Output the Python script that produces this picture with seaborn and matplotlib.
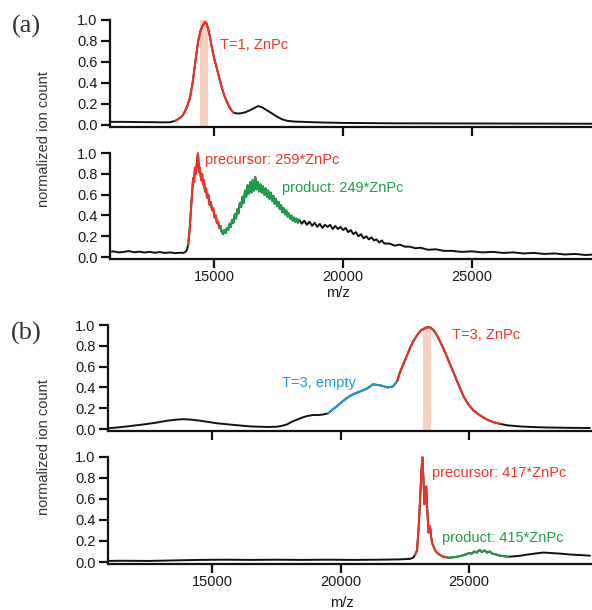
import matplotlib
matplotlib.use("Agg")
import matplotlib.pyplot as plt
import numpy as np
import seaborn as sns

# ---- data (m/z, normalized ion count) ----
# (a) top: T=1, ZnPc
a1_mz = [10900, 11500, 12000, 12500, 13000, 13300, 13500, 13700, 13800, 13950,
         14070, 14170, 14260, 14380, 14480, 14570, 14650, 14700, 14770, 14850,
         14920, 15010, 15110, 15210, 15310, 15400, 15500, 15620, 15740, 15870,
         16000, 16200, 16390, 16550, 16700, 16850, 17050, 17250, 17440, 17630,
         17830, 18100, 18450, 19000, 20000, 21000, 22000, 24000, 26000, 28000, 29700]
a1_int = [0.030, 0.030, 0.028, 0.027, 0.025, 0.026, 0.040, 0.070, 0.095, 0.170,
          0.260, 0.400, 0.570, 0.790, 0.900, 0.950, 0.980, 0.970, 0.920, 0.830,
          0.730, 0.630, 0.540, 0.440, 0.350, 0.280, 0.220, 0.160, 0.120, 0.110,
          0.110, 0.120, 0.140, 0.160, 0.180, 0.170, 0.140, 0.110, 0.080, 0.055,
          0.040, 0.033, 0.030, 0.025, 0.020, 0.018, 0.016, 0.015, 0.014, 0.013, 0.012]

# (a) bottom: precursor 259*ZnPc -> product 249*ZnPc
a2_mz = [10900, 11100, 11300, 11500, 11700, 11900, 12100, 12300, 12500, 12700,
         12900, 13100, 13300, 13500, 13700, 13800, 13900, 13950, 14000, 14050,
         14100, 14150, 14190, 14230, 14260, 14300, 14340, 14380, 14420, 14450,
         14500, 14540, 14570, 14610, 14650, 14690, 14730, 14780, 14830, 14880,
         14920, 14970, 15020, 15070, 15110, 15160, 15200, 15250, 15300, 15350,
         15400, 15450, 15500, 15550, 15600, 15650, 15700, 15750, 15800, 15850,
         15900, 15950, 16000, 16050, 16100, 16150, 16200, 16250, 16300, 16350,
         16400, 16450, 16500, 16550, 16600, 16650, 16700, 16750, 16800, 16850,
         16900, 16950, 17000, 17050, 17100, 17150, 17200, 17250, 17300, 17350,
         17400, 17450, 17500, 17550, 17600, 17650, 17700, 17750, 17800, 17850,
         17900, 17950, 18000, 18050, 18100, 18150, 18200, 18250, 18300, 18400,
         18500, 18600, 18700, 18800, 18900, 19000, 19100, 19200, 19300, 19400,
         19500, 19600, 19700, 19800, 19900, 20000, 20100, 20200, 20300, 20400,
         20500, 20600, 20700, 20800, 20900, 21000, 21100, 21200, 21300, 21400,
         21500, 21600, 21800, 22000, 22200, 22400, 22600, 22800, 23000, 23300,
         23600, 23900, 24200, 24600, 25000, 25400, 25800, 26200, 26600, 27000,
         27400, 27800, 28200, 28600, 29000, 29400, 29700]
a2_int = [0.050, 0.055, 0.045, 0.050, 0.058, 0.046, 0.052, 0.044, 0.050, 0.042,
          0.048, 0.040, 0.045, 0.038, 0.042, 0.040, 0.050, 0.070, 0.120, 0.250,
          0.430, 0.620, 0.760, 0.720, 0.860, 0.800, 0.920, 1.000, 0.820, 0.860,
          0.740, 0.800, 0.700, 0.740, 0.630, 0.660, 0.570, 0.600, 0.500, 0.530,
          0.450, 0.470, 0.380, 0.400, 0.330, 0.340, 0.280, 0.300, 0.240, 0.220,
          0.260, 0.230, 0.280, 0.260, 0.320, 0.290, 0.360, 0.330, 0.410, 0.370,
          0.460, 0.420, 0.520, 0.480, 0.580, 0.520, 0.640, 0.580, 0.690, 0.610,
          0.720, 0.620, 0.740, 0.640, 0.770, 0.650, 0.720, 0.630, 0.700, 0.620,
          0.680, 0.600, 0.660, 0.580, 0.640, 0.560, 0.620, 0.540, 0.590, 0.510,
          0.560, 0.490, 0.530, 0.460, 0.500, 0.430, 0.470, 0.410, 0.450, 0.390,
          0.420, 0.370, 0.400, 0.350, 0.380, 0.340, 0.370, 0.330, 0.360, 0.320,
          0.350, 0.310, 0.340, 0.300, 0.330, 0.290, 0.320, 0.280, 0.310, 0.290,
          0.310, 0.270, 0.300, 0.270, 0.290, 0.260, 0.280, 0.240, 0.260, 0.220,
          0.240, 0.200, 0.220, 0.180, 0.200, 0.170, 0.190, 0.160, 0.170, 0.140,
          0.160, 0.130, 0.130, 0.110, 0.120, 0.100, 0.100, 0.085, 0.090, 0.070,
          0.075, 0.060, 0.060, 0.050, 0.055, 0.045, 0.050, 0.040, 0.045, 0.035,
          0.040, 0.030, 0.035, 0.025, 0.030, 0.020, 0.025]

# (b) top: T=3 empty / T=3 ZnPc
b1_mz = [10900, 11500, 12200, 12800, 13250, 13600, 13870, 14200, 14530, 15200,
         15820, 16500, 17140, 17500, 17700, 17920, 18100, 18300, 18500, 18700,
         18930, 19150, 19320, 19510, 19700, 19860, 20050, 20250, 20450, 20640,
         20850, 21030, 21150, 21260, 21400, 21540, 21700, 21810, 21950, 22040,
         22200, 22300, 22430, 22570, 22700, 22840, 22970, 23130, 23290, 23400,
         23500, 23620, 23750, 23870, 23990, 24130, 24260, 24400, 24530, 24650,
         24770, 24960, 25160, 25430, 25700, 25950, 26200, 26500, 27000, 27400,
         28000, 28800, 29700]
b1_int = [0.005, 0.020, 0.040, 0.060, 0.080, 0.090, 0.095, 0.090, 0.080, 0.055,
          0.040, 0.025, 0.020, 0.022, 0.030, 0.045, 0.070, 0.090, 0.110, 0.125,
          0.135, 0.135, 0.140, 0.150, 0.190, 0.220, 0.260, 0.300, 0.330, 0.350,
          0.370, 0.390, 0.410, 0.430, 0.425, 0.420, 0.410, 0.400, 0.405, 0.410,
          0.460, 0.540, 0.620, 0.700, 0.780, 0.850, 0.900, 0.950, 0.970, 0.980,
          0.975, 0.950, 0.900, 0.840, 0.780, 0.700, 0.620, 0.540, 0.460, 0.390,
          0.320, 0.240, 0.180, 0.130, 0.090, 0.065, 0.050, 0.035, 0.025, 0.020,
          0.015, 0.012, 0.010]

# (b) bottom: precursor 417*ZnPc -> product 415*ZnPc
b2_mz = [10900, 11500, 12500, 13500, 14500, 15500, 16500, 17500, 18500, 19500,
         20500, 21500, 22300, 22700, 22820, 22900, 22970, 23030, 23090, 23140,
         23180, 23220, 23260, 23300, 23330, 23370, 23420, 23450, 23480, 23520,
         23560, 23610, 23680, 23740, 23850, 24000, 24190, 24400, 24650, 24900,
         25000, 25100, 25200, 25300, 25400, 25500, 25600, 25700, 25800, 25900,
         26000, 26210, 26520, 26800, 27000, 27250, 27550, 27880, 28200, 28540,
         29000, 29400, 29700]
b2_int = [0.010, 0.012, 0.010, 0.015, 0.020, 0.022, 0.020, 0.022, 0.020, 0.022,
          0.020, 0.022, 0.025, 0.030, 0.040, 0.070, 0.110, 0.300, 0.590, 0.850,
          1.000, 0.800, 0.550, 0.680, 0.720, 0.500, 0.280, 0.300, 0.340, 0.240,
          0.180, 0.150, 0.110, 0.090, 0.070, 0.050, 0.040, 0.045, 0.055, 0.075,
          0.085, 0.080, 0.100, 0.090, 0.115, 0.095, 0.110, 0.090, 0.100, 0.080,
          0.075, 0.060, 0.050, 0.055, 0.060, 0.070, 0.080, 0.090, 0.085, 0.080,
          0.070, 0.065, 0.060]

ticks_mz = [15000, 20000, 25000]
ticks_int = [0.0, 0.2, 0.4, 0.6, 0.8, 1.0]

RED, GREEN, BLUE = "#ef3326", "#1e9e4a", "#1d9ddb"
SPAN = "#f9d2bf"

sns.set_style("ticks")
plt.rcParams["font.family"] = ["Liberation Sans", "DejaVu Sans"]
plt.rcParams["font.size"] = 10.5

fig = plt.figure(figsize=(5.92, 6.10), dpi=100)

# axes boxes [left, bottom, width, height]
boxes = [[0.185, 0.7925, 0.815, 0.1748],
         [0.185, 0.5760, 0.815, 0.1731],
         [0.1816, 0.2941, 0.8184, 0.1731],
         [0.1816, 0.0761, 0.8184, 0.1748]]
xlims = [(10950, 29650), (10950, 29650), (10930, 29780), (10930, 29780)]

panels = [
    (a1_mz, a1_int, [(13500, 15740, RED)]),
    (a2_mz, a2_int, [(14000, 15250, RED), (15250, 18300, GREEN)]),
    (b1_mz, b1_int, [(19510, 22200, BLUE), (22200, 26200, RED)]),
    (b2_mz, b2_int, [(22900, 24190, RED), (24190, 26520, GREEN)]),
]

axes = []
for box, lim, (mz, inten, segs) in zip(boxes, xlims, panels):
    ax = fig.add_axes(box)
    mz = np.array(mz)
    inten = np.array(inten)
    sns.lineplot(x=mz, y=inten, ax=ax, color="#111111", lw=1.4,
                 estimator=None, sort=False)
    for lo, hi, col in segs:
        m = (mz >= lo) & (mz <= hi)
        sns.lineplot(x=mz[m], y=inten[m], ax=ax, color=col, lw=1.4,
                     estimator=None, sort=False, clip_on=False)
    ax.set_xlim(*lim)
    ax.set_ylim(-0.015, 1.0)
    ax.set_xticks(ticks_mz)
    ax.set_yticks(ticks_int)
    ax.set_yticklabels([f"{t:.1f}" for t in ticks_int])
    ax.set_xlabel("")
    ax.set_ylabel("")
    sns.despine(ax=ax)
    for s in ["left", "bottom"]:
        ax.spines[s].set_linewidth(1.6)
        ax.spines[s].set_color("#111111")
    ax.tick_params(length=6.5, width=1.6, color="#111111",
                   labelsize=10.5, labelcolor="#1a1a1a", pad=2)
    axes.append(ax)

for ax in (axes[0], axes[2]):
    ax.tick_params(axis="x", labelbottom=False)

# highlighted m/z windows
axes[0].axvspan(14460, 14780, ymin=0, ymax=1.0, color=SPAN, zorder=0, lw=0)
axes[2].axvspan(23200, 23520, ymin=0, ymax=0.99, color=SPAN, zorder=0, lw=0)

# peak labels
axes[0].text(15230, 0.76, "T=1, ZnPc", color=RED, va="center")
axes[1].text(14650, 0.93, "precursor: 259*ZnPc", color=RED, va="center")
axes[1].text(17640, 0.66, "product: 249*ZnPc", color=GREEN, va="center")
axes[2].text(17720, 0.44, "T=3, empty", color=BLUE, va="center")
axes[2].text(24340, 0.90, "T=3, ZnPc", color=RED, va="center")
axes[3].text(23560, 0.85, "precursor: 417*ZnPc", color=RED, va="center")
axes[3].text(23950, 0.23, "product: 415*ZnPc", color=GREEN, va="center")

axes[1].set_xlabel("m/z", color="#1a1a1a")
axes[1].xaxis.set_label_coords(0.474, -0.26)
axes[3].set_xlabel("m/z", color="#1a1a1a")
axes[3].xaxis.set_label_coords(0.484, -0.30)

fig.text(44 / 592, 1 - 139 / 610, "normalized ion count", rotation=90,
         ha="center", va="center", color="#333333")
fig.text(44 / 592, 1 - 447 / 610, "normalized ion count", rotation=90,
         ha="center", va="center", color="#333333")

fig.text(26 / 592, 1 - 26 / 610, "(a)", family=["Liberation Serif", "DejaVu Serif"],
         fontsize=19, ha="center", va="center", color="#333333")
fig.text(26 / 592, 1 - 333 / 610, "(b)", family=["Liberation Serif", "DejaVu Serif"],
         fontsize=19, ha="center", va="center", color="#333333")

fig.savefig("out.png", dpi=100)
